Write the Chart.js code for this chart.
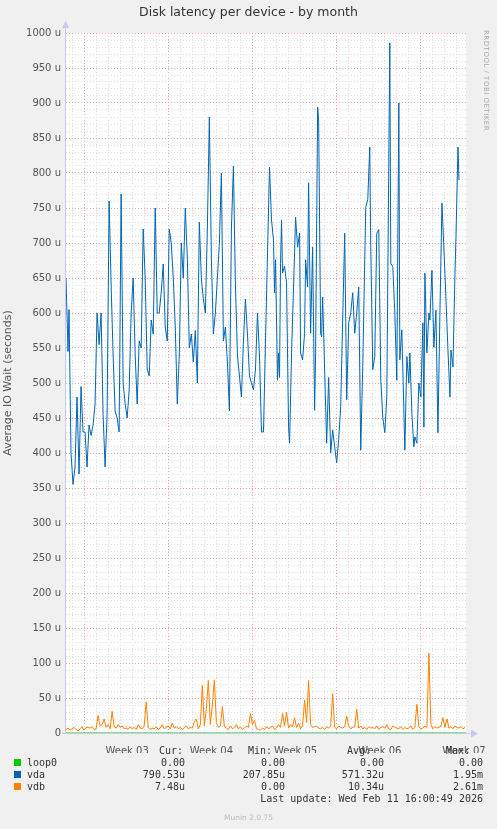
<!DOCTYPE html>
<html>
<head>
<meta charset="utf-8">
<script src="https://cdn.jsdelivr.net/npm/chart.js@4"></script>
<style>
  body { margin: 0; background: #f0f0f0; font-family: "DejaVu Sans", sans-serif; }
  #wrap { position: relative; width: 497px; height: 829px; }
  canvas { position: absolute; left: 0; top: 0; }
  #title { position: absolute; top: 4px; left: 0; width: 497px; text-align: center; font-size: 12.5px; color: #333; }
  #rrd { position: absolute; left: 482px; top: 30px; font-size: 7px; color: #aaa; writing-mode: vertical-rl; letter-spacing: 0.5px; }
  #legend { position: absolute; left: 0; top: 757px; font-family: "DejaVu Sans Mono", monospace; font-size: 10px; color: #333; }
  #legend div { position: absolute; white-space: pre; }
  .sw { display: inline-block; width: 7px; height: 7px; margin-right: 6px; }
  #munin { position: absolute; top: 813px; left: 0; width: 497px; text-align: center; font-size: 7.5px; color: #bbb; }
</style>
</head>
<body>
<div id="wrap">
  <canvas id="chart" width="497" height="829"></canvas>
  <div id="title">Disk latency per device - by month</div>
  <div id="rrd">RRDTOOL / TOBI OETIKER</div>
  <div id="legend"></div>
  <div id="munin">Munin 2.0.75</div>
</div>
<script>
// time in 2-hour steps from the left edge of the graph
var weekLabels = ['Week 03', 'Week 04', 'Week 05', 'Week 06', 'Week 07'];
var weekLabelT = [61, 145, 229, 313, 397];
var weekStartT = [18, 102, 186, 270, 354];

var vdaT = [0, 2, 3, 5, 7, 9,
  11, 13, 15, 17, 19, 21, 23, 25, 27, 29, 31, 33, 35, 37, 39, 41, 43, 45, 47, 49,
  51, 53, 55, 57, 59, 61, 63, 65, 67, 69, 71, 73, 75, 77, 79, 81, 83, 85, 87, 89,
  91, 93, 95, 97, 99, 101, 103, 105, 107, 109, 111, 113, 115, 117, 119, 121, 123, 125, 127, 129,
  131, 133, 135, 137, 139, 141, 143, 145, 147, 149, 151, 153, 155, 157, 159, 161, 163, 165, 167, 169,
  171, 173, 175, 177, 179, 181, 183, 185, 187, 189, 191, 193, 195, 197, 199,
  203, 205, 207, 208, 209, 211, 212, 213, 214, 215, 216, 218, 220, 222, 223, 225, 228, 229, 231, 233,
  234, 236, 238, 239, 241, 242, 244, 246, 248, 249, 251, 252, 254, 255, 256, 260, 262, 264, 266, 268,
  270, 272, 274, 278, 280, 282, 284, 286, 288, 290, 292, 294, 296, 299, 301, 303, 304, 306, 308, 310,
  312, 314, 316, 318, 320, 323, 324, 326, 328, 330, 332, 333, 335, 338, 340, 342, 343, 345, 347, 348,
  350, 352, 354, 356, 357, 358, 360, 362, 363, 365, 367, 369, 371, 373, 375, 378, 381, 383, 384, 386,
  388, 389, 391, 392];
var vdaValues = [650, 545, 605, 400, 355, 380,
  480, 370, 495, 430, 430, 380, 440, 425, 440, 470,
  600, 555, 600, 455, 380, 455, 760, 640, 540, 460,
  450, 430, 770, 500, 470, 450, 490, 600, 650, 540,
  470, 560, 550, 720, 650, 520, 510, 590, 570, 750,
  600, 600, 630, 670, 580, 560, 720, 700, 650, 580,
  470, 540, 700, 650, 750, 680, 550, 570, 530, 575,
  500, 730, 650, 620, 600, 720, 880, 680, 570, 600,
  650, 700, 800, 560, 580, 530, 460, 720, 810, 640,
  540, 510, 480, 560, 620, 570, 510, 500, 490, 520,
  600, 540, 430, 430, 560,
  808, 733, 704, 629, 676, 504, 543, 508, 671, 733, 657, 667, 643, 437, 414, 543, 686, 737, 694, 714,
  543, 533, 571, 676, 637, 786, 571, 694, 461, 543, 894, 876, 571, 566, 623, 414, 508, 400, 433, 409,
  386, 419, 466, 714, 476, 586, 600, 629, 571, 600, 637, 404, 523, 751, 762, 837, 694, 519, 538, 714,
  719, 504, 451, 429, 480, 986, 671, 666, 600, 504, 900, 533, 576, 404, 538, 500, 543, 457, 409, 423,
  414, 500, 480, 586, 437, 657, 543, 600, 590, 661, 551, 604, 429, 600, 757, 657, 547, 480, 547, 523,
  657, 709, 837, 790];

// vdb sampled every 2 steps
var vdbValues = [5, 7, 4, 6, 8, 5, 3, 6, 9, 4,
  8, 8, 7, 9, 5, 6, 25, 10, 12, 20,
  8, 12, 6, 31, 9, 7, 12, 8, 10, 6,
  7, 5, 9, 6, 8, 5, 12, 7, 6, 10,
  44, 8, 5, 7, 6, 9, 5, 7, 12, 6,
  8, 10, 6, 14, 7, 9, 6, 8, 5, 7,
  10, 6, 8, 7, 16, 20, 6, 12, 68, 10,
  35, 75, 12, 40, 76, 15, 8, 10, 38, 9,
  7, 5, 10, 6, 8, 12, 6, 9, 5, 7,
  10, 8, 28, 12, 18, 6, 5, 4, 7, 5,
  9, 6, 8, 10, 5, 7, 12, 8, 28, 10,
  30, 7, 12, 9, 22, 8, 14, 6, 10, 47,
  15, 75, 12, 8, 9, 10, 7, 6, 8, 5,
  9, 7, 10, 56, 8, 6, 10, 8, 7, 9,
  24, 10, 6, 8, 9, 34, 7, 10, 6, 8,
  5, 9, 7, 8, 6, 10, 5, 8, 9, 7,
  12, 6, 5, 10, 8, 7, 6, 9, 5, 8,
  6, 7, 10, 5, 8, 41, 9, 6, 7, 10,
  8, 114, 12, 6, 9, 7, 8, 10, 22, 8,
  20, 7, 9, 6, 10, 8, 7, 9, 6, 8];

var legendRows = [
  ['loop0', '#00cc00', '0.00', '0.00', '0.00', '0.00'],
  ['vda', '#0066b3', '790.53u', '207.85u', '571.32u', '1.95m'],
  ['vdb', '#ff8000', '7.48u', '0.00', '10.34u', '2.61m']
];

var vdaData = vdaT.map(function(t, i) { return { x: t, y: vdaValues[i] }; });
var vdbData = vdbValues.map(function(v, i) { return { x: i * 2, y: v }; });
var loopData = [{ x: 0, y: 0 }, { x: 399, y: 0 }];

var plotBg = {
  id: 'plotBg',
  beforeDraw: function(chart) {
    var a = chart.chartArea, c = chart.ctx;
    c.save();
    c.fillStyle = '#ffffff';
    c.fillRect(a.left, a.top, a.right - a.left, a.bottom - a.top);
    c.restore();
  },
  afterDraw: function(chart) {
    var a = chart.chartArea, c = chart.ctx;
    c.save();
    c.strokeStyle = '#c8c8f0';
    c.fillStyle = '#c8c8f0';
    c.lineWidth = 1;
    c.beginPath();
    c.moveTo(a.left - 0.5, a.bottom); c.lineTo(a.left - 0.5, a.top - 6);
    c.moveTo(a.left - 4, a.bottom + 0.5); c.lineTo(a.right + 6, a.bottom + 0.5);
    c.stroke();
    c.beginPath();
    c.moveTo(a.left - 4, a.top - 5); c.lineTo(a.left + 3, a.top - 5); c.lineTo(a.left - 0.5, a.top - 12); c.fill();
    c.beginPath();
    c.moveTo(a.right + 5, a.bottom - 3.5); c.lineTo(a.right + 5, a.bottom + 4.5); c.lineTo(a.right + 12, a.bottom + 0.5); c.fill();
    c.restore();
  }
};

var ctx = document.getElementById('chart').getContext('2d');
var chart = new Chart(ctx, {
  type: 'line',
  data: {
    datasets: [
      { label: 'loop0', data: loopData, borderColor: '#00cc00', borderWidth: 1, pointRadius: 0, yAxisID: 'y', xAxisID: 'x' },
      { label: 'vda', data: vdaData, borderColor: '#0066b3', borderWidth: 1, pointRadius: 0, yAxisID: 'y', xAxisID: 'x' },
      { label: 'vdb', data: vdbData, borderColor: '#ff8000', borderWidth: 1, pointRadius: 0, yAxisID: 'y', xAxisID: 'x' }
    ]
  },
  options: {
    animation: false,
    responsive: false,
    layout: { padding: { top: 33, right: 31, bottom: 76, left: 0 } },
    plugins: { legend: { display: false }, tooltip: { enabled: false } },
    scales: {
      x: {
        type: 'linear', min: 0, max: 399, position: 'bottom',
        afterBuildTicks: function(s) {
          var t = [];
          for (var v = 6; v <= 399; v += 12) t.push({ value: v });
          s.ticks = t;
        },
        grid: {
          color: function(c) { return weekStartT.indexOf(c.tick.value) >= 0 ? '#f0a0a0' : '#dddddd'; },
          lineWidth: 1, drawTicks: false, drawOnChartArea: true, borderDash: [1, 2]
        },
        border: { display: false, dash: [1, 2] },
        ticks: { display: false },
        afterFit: function(s) { s.height = 0; }
      },
      xw: {
        type: 'linear', min: 0, max: 399, position: 'bottom',
        afterBuildTicks: function(s) { s.ticks = weekLabelT.map(function(v) { return { value: v }; }); },
        grid: { display: false },
        border: { display: false },
        ticks: {
          font: { family: 'DejaVu Sans', size: 10 }, color: '#555', padding: 4, maxRotation: 0,
          callback: function(v) { return weekLabels[weekLabelT.indexOf(v)]; }
        },
        afterFit: function(s) { s.height = 20; }
      },
      ym: {
        type: 'linear', min: 0, max: 1000, position: 'left',
        afterBuildTicks: function(s) {
          var t = [];
          for (var v = 10; v < 1000; v += 10) if (v % 50) t.push({ value: v });
          s.ticks = t;
        },
        grid: { color: '#dddddd', drawTicks: false, borderDash: [1, 2] },
        border: { display: false, dash: [1, 2] },
        ticks: { display: false },
        afterFit: function(s) { s.width = 0; }
      },
      y: {
        type: 'linear', min: 0, max: 1000, position: 'left',
        afterBuildTicks: function(s) {
          var t = [];
          for (var v = 0; v <= 1000; v += 50) t.push({ value: v });
          s.ticks = t;
        },
        grid: { color: '#f0a0a0', drawTicks: false, tickLength: 0 },
        border: { display: false, dash: [1, 2] },
        ticks: {
          font: { family: 'DejaVu Sans', size: 10 }, color: '#555', padding: 5,
          callback: function(v) { return v === 0 ? '0' : v + ' u'; }
        },
        title: { display: true, text: 'Average IO Wait (seconds)', font: { family: 'DejaVu Sans', size: 11 }, color: '#555', padding: 2 },
        afterFit: function(s) { s.width = 66; }
      }
    }
  },
  plugins: [plotBg]
});
// dotted grid lines
['x', 'ym', 'y'].forEach(function(id) { chart.options.scales[id].grid.borderDash = [1, 2]; });
chart.options.scales.x.border.dash = [1, 2];
chart.update();

// legend below
var leg = document.getElementById('legend');
function put(txt, x, y, align) {
  var d = document.createElement('div');
  d.innerHTML = txt;
  d.style.top = y + 'px';
  if (align === 'right') { d.style.right = (497 - x) + 'px'; } else { d.style.left = x + 'px'; }
  leg.appendChild(d);
}
var wrapLeg = leg; wrapLeg.style.width = '497px';
put('Cur:', 183, -12, 'right');
put('Min:', 272, -12, 'right');
put('Avg:', 371, -12, 'right');
put('Max:', 470, -12, 'right');
legendRows.forEach(function(r, i) {
  var y = i * 12;
  put('<span class="sw" style="background:' + r[1] + '"></span>' + r[0], 14, y);
  put(r[2], 185, y, 'right');
  put(r[3], 285, y, 'right');
  put(r[4], 384, y, 'right');
  put(r[5], 483, y, 'right');
});
put('Last update: Wed Feb 11 16:00:49 2026', 483, 36, 'right');
</script>
</body>
</html>
